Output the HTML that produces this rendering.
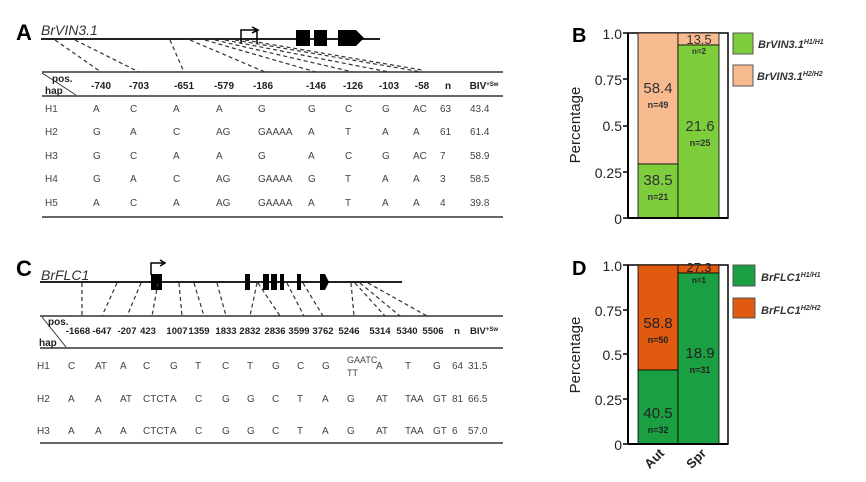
<!DOCTYPE html><html><head><style>body{margin:0;background:#fff}svg{display:block}</style></head><body>
<svg width="866" height="482" viewBox="0 0 866 482" font-family="Liberation Sans, sans-serif" xmlns="http://www.w3.org/2000/svg">
<!-- Panel A -->
<text x="16" y="40" font-size="22" font-weight="bold">A</text>
<text x="41" y="35" font-size="14" font-style="italic" fill="#333">BrVIN3.1</text>
<line x1="41" y1="39" x2="380" y2="39" stroke="#222" stroke-width="2"/>
<path d="M241 44 V30 H256 M252 27 L258 30 L252 33 M257 30 V44" stroke="#000" stroke-width="1.5" fill="none"/>
<rect x="296" y="30" width="14" height="16" fill="#000"/><rect x="314" y="30" width="13" height="16" fill="#000"/>
<path d="M338 30 H356 L364 38 L356 46 H338Z" fill="#000"/>
<g stroke="#333" stroke-dasharray="4,3" stroke-width="1.2">
<line x1="55" y1="40" x2="101" y2="72"/><line x1="75" y1="40" x2="139" y2="72"/><line x1="170" y1="40" x2="184" y2="72"/>
<line x1="190" y1="40" x2="265" y2="72"/><line x1="205" y1="40" x2="316" y2="72"/><line x1="215" y1="40" x2="353" y2="72"/>
<line x1="225" y1="40" x2="389" y2="72"/><line x1="235" y1="40" x2="422" y2="72"/><line x1="245" y1="40" x2="422" y2="70"/></g>
<line x1="42" y1="72" x2="503" y2="72" stroke="#333" stroke-width="1.5"/>
<line x1="42" y1="96" x2="503" y2="96" stroke="#333" stroke-width="1.5"/>
<line x1="42" y1="217" x2="503" y2="217" stroke="#333" stroke-width="1.5"/>
<line x1="42" y1="73" x2="76" y2="95" stroke="#333"/>
<g font-size="10" fill="#222" font-weight="bold"><text x="52" y="82">pos.</text><text x="45" y="94">hap</text>
<g text-anchor="middle"><text x="101" y="89">-740</text><text x="139" y="89">-703</text><text x="184" y="89">-651</text><text x="224" y="89">-579</text><text x="263" y="89">-186</text><text x="316" y="89">-146</text><text x="353" y="89">-126</text><text x="389" y="89">-103</text><text x="422" y="89">-58</text><text x="448" y="89">n</text><text x="484" y="89">BIV<tspan font-size="6" dy="-3">+Sw</tspan></text></g></g>
<g font-size="10" fill="#444">
<g transform="translate(0,112)"><text x="45">H1</text><text x="93">A</text><text x="130">C</text><text x="173">A</text><text x="216">A</text><text x="258">G</text><text x="308">G</text><text x="345">C</text><text x="382">G</text><text x="413">AC</text><text x="440">63</text><text x="470">43.4</text></g>
<g transform="translate(0,135)"><text x="45">H2</text><text x="93">G</text><text x="130">A</text><text x="173">C</text><text x="216">AG</text><text x="258">GAAAA</text><text x="308">A</text><text x="345">T</text><text x="382">A</text><text x="413">A</text><text x="440">61</text><text x="470">61.4</text></g>
<g transform="translate(0,159)"><text x="45">H3</text><text x="93">G</text><text x="130">C</text><text x="173">A</text><text x="216">A</text><text x="258">G</text><text x="308">A</text><text x="345">C</text><text x="382">G</text><text x="413">AC</text><text x="440">7</text><text x="470">58.9</text></g>
<g transform="translate(0,182)"><text x="45">H4</text><text x="93">G</text><text x="130">A</text><text x="173">C</text><text x="216">AG</text><text x="258">GAAAA</text><text x="308">G</text><text x="345">T</text><text x="382">A</text><text x="413">A</text><text x="440">3</text><text x="470">58.5</text></g>
<g transform="translate(0,206)"><text x="45">H5</text><text x="93">A</text><text x="130">C</text><text x="173">A</text><text x="216">AG</text><text x="258">GAAAA</text><text x="308">A</text><text x="345">T</text><text x="382">A</text><text x="413">A</text><text x="440">4</text><text x="470">39.8</text></g></g>

<!-- Panel C -->
<text x="16" y="276" font-size="22" font-weight="bold">C</text>
<text x="41" y="280" font-size="14" font-style="italic" fill="#333">BrFLC1</text>
<line x1="40" y1="282" x2="402" y2="282" stroke="#222" stroke-width="2"/>
<path d="M151 275 V263 H163 M160 260 L165 263 L160 266" stroke="#000" stroke-width="1.5" fill="none"/>
<rect x="151" y="274" width="11" height="16" fill="#000"/>
<g fill="#000"><rect x="245" y="274" width="5" height="16"/><rect x="263" y="274" width="6" height="16"/><rect x="271" y="274" width="6" height="16"/><rect x="280" y="274" width="4" height="16"/><rect x="297" y="274" width="4" height="16"/><path d="M320 274 H325 L329 282 L325 290 H320Z"/></g>
<g stroke="#333" stroke-dasharray="4,3" stroke-width="1.2">
<line x1="82" y1="283" x2="82" y2="316"/><line x1="117" y1="283" x2="102" y2="316"/><line x1="141" y1="283" x2="127" y2="316"/><line x1="158" y1="283" x2="152" y2="316"/>
<line x1="179" y1="283" x2="182" y2="316"/><line x1="194" y1="283" x2="204" y2="316"/><line x1="217" y1="283" x2="226" y2="316"/><line x1="257" y1="283" x2="250" y2="316"/>
<line x1="258" y1="283" x2="280" y2="316"/><line x1="287" y1="283" x2="304" y2="316"/><line x1="303" y1="283" x2="323" y2="316"/><line x1="351" y1="283" x2="354" y2="316"/>
<line x1="355" y1="283" x2="385" y2="316"/><line x1="360" y1="283" x2="400" y2="316"/><line x1="368" y1="283" x2="427" y2="316"/></g>
<line x1="40" y1="316" x2="503" y2="316" stroke="#333" stroke-width="1.5"/>
<line x1="40" y1="348" x2="503" y2="348" stroke="#333" stroke-width="1.5"/>
<line x1="40" y1="443" x2="503" y2="443" stroke="#333" stroke-width="1.5"/>
<line x1="42" y1="317" x2="66" y2="347" stroke="#333"/>
<g font-size="10" fill="#222" font-weight="bold"><text x="48" y="325">pos.</text><text x="39" y="346">hap</text>
<g text-anchor="middle" font-size="9.5"><text x="78" y="334">-1668</text><text x="102" y="334">-647</text><text x="127" y="334">-207</text><text x="148" y="334">423</text><text x="177" y="334">1007</text><text x="199" y="334">1359</text><text x="226" y="334">1833</text><text x="250" y="334">2832</text><text x="275" y="334">2836</text><text x="299" y="334">3599</text><text x="323" y="334">3762</text><text x="349" y="334">5246</text><text x="380" y="334">5314</text><text x="407" y="334">5340</text><text x="433" y="334">5506</text><text x="457" y="334">n</text><text x="484" y="334">BIV<tspan font-size="6" dy="-3">+Sw</tspan></text></g></g>
<g font-size="10" fill="#444">
<g transform="translate(0,369)"><text x="37">H1</text><text x="68">C</text><text x="95">AT</text><text x="120">A</text><text x="143">C</text><text x="170">G</text><text x="195">T</text><text x="222">C</text><text x="247">T</text><text x="272">G</text><text x="297">C</text><text x="322">G</text><text x="347" y="-6" font-size="9">GAATC</text><text x="347" y="7" font-size="9">TT</text><text x="376">A</text><text x="405">T</text><text x="433">G</text><text x="452">64</text><text x="468">31.5</text></g>
<g transform="translate(0,402)"><text x="37">H2</text><text x="68">A</text><text x="95">A</text><text x="120">AT</text><text x="143">CTCT</text><text x="170">A</text><text x="195">C</text><text x="222">G</text><text x="247">G</text><text x="272">C</text><text x="297">T</text><text x="322">A</text><text x="347">G</text><text x="376">AT</text><text x="405">TAA</text><text x="433">GT</text><text x="452">81</text><text x="468">66.5</text></g>
<g transform="translate(0,434)"><text x="37">H3</text><text x="68">A</text><text x="95">A</text><text x="120">A</text><text x="143">CTCT</text><text x="170">A</text><text x="195">C</text><text x="222">G</text><text x="247">G</text><text x="272">C</text><text x="297">T</text><text x="322">A</text><text x="347">G</text><text x="376">AT</text><text x="405">TAA</text><text x="433">GT</text><text x="452">6</text><text x="468">57.0</text></g></g>

<!-- Panel B -->
<text x="572" y="42" font-size="20" font-weight="bold">B</text>
<rect x="628" y="33" width="100" height="185" fill="#fff" stroke="#000" stroke-width="1.5"/>
<rect x="638" y="33" width="40" height="131" fill="#f8bb8f" stroke="#000" stroke-width="0.8"/>
<rect x="638" y="164" width="40" height="54" fill="#7dcd3c" stroke="#000" stroke-width="0.8"/>
<rect x="678" y="33" width="41" height="12" fill="#f8bb8f" stroke="#000" stroke-width="0.8"/>
<rect x="678" y="45" width="41" height="173" fill="#7dcd3c" stroke="#000" stroke-width="0.8"/>
<line x1="628" y1="33" x2="628" y2="218" stroke="#000" stroke-width="2"/><line x1="628" y1="218" x2="728" y2="218" stroke="#000" stroke-width="2"/>
<g stroke="#000" stroke-width="1.5"><line x1="623" y1="33" x2="628" y2="33"/><line x1="623" y1="79" x2="628" y2="79"/><line x1="623" y1="126" x2="628" y2="126"/><line x1="623" y1="172" x2="628" y2="172"/><line x1="623" y1="218" x2="628" y2="218"/></g>
<g font-size="14" fill="#222" text-anchor="end"><text x="622" y="39">1.0</text><text x="622" y="85">0.75</text><text x="622" y="131">0.5</text><text x="622" y="178">0.25</text><text x="622" y="224">0</text></g>
<text transform="translate(580,125) rotate(-90)" font-size="15" text-anchor="middle" fill="#222">Percentage</text>
<g text-anchor="middle" fill="#333"><text x="658" y="93" font-size="15">58.4</text><text x="658" y="108" font-size="9" font-weight="bold">n=49</text>
<text x="658" y="185" font-size="15">38.5</text><text x="658" y="200" font-size="9" font-weight="bold">n=21</text>
<text x="700" y="131" font-size="15">21.6</text><text x="700" y="146" font-size="9" font-weight="bold">n=25</text>
<text x="699" y="44" font-size="13">13.5</text><text x="699" y="54" font-size="8" font-weight="bold">n=2</text></g>
<rect x="733" y="33" width="20" height="21" fill="#7dcd3c" stroke="#555"/><rect x="733" y="65" width="20" height="21" fill="#f8bb8f" stroke="#555"/>
<g font-size="11" font-weight="bold" font-style="italic" fill="#333"><text x="758" y="48">BrVIN3.1<tspan font-size="7" dy="-4">H1/H1</tspan></text><text x="757" y="80">BrVIN3.1<tspan font-size="7" dy="-4">H2/H2</tspan></text></g>

<!-- Panel D -->
<text x="572" y="275" font-size="20" font-weight="bold">D</text>
<rect x="628" y="265" width="100" height="179" fill="#fff" stroke="#000" stroke-width="1.5"/>
<rect x="638" y="265" width="40" height="105" fill="#e05a10" stroke="#000" stroke-width="0.8"/>
<rect x="638" y="370" width="40" height="74" fill="#1aa043" stroke="#000" stroke-width="0.8"/>
<rect x="678" y="265" width="41" height="8" fill="#e05a10" stroke="#000" stroke-width="0.8"/>
<rect x="678" y="273" width="41" height="171" fill="#1aa043" stroke="#000" stroke-width="0.8"/>
<line x1="628" y1="265" x2="628" y2="444" stroke="#000" stroke-width="2"/><line x1="628" y1="444" x2="728" y2="444" stroke="#000" stroke-width="2"/>
<g stroke="#000" stroke-width="1.5"><line x1="623" y1="265" x2="628" y2="265"/><line x1="623" y1="310" x2="628" y2="310"/><line x1="623" y1="354" x2="628" y2="354"/><line x1="623" y1="399" x2="628" y2="399"/><line x1="623" y1="444" x2="628" y2="444"/></g>
<g font-size="14" fill="#222" text-anchor="end"><text x="622" y="271">1.0</text><text x="622" y="316">0.75</text><text x="622" y="360">0.5</text><text x="622" y="405">0.25</text><text x="622" y="450">0</text></g>
<text transform="translate(580,355) rotate(-90)" font-size="15" text-anchor="middle" fill="#222">Percentage</text>
<g text-anchor="middle" fill="#222"><text x="658" y="328" font-size="15">58.8</text><text x="658" y="343" font-size="9" font-weight="bold">n=50</text>
<text x="658" y="418" font-size="15">40.5</text><text x="658" y="433" font-size="9" font-weight="bold">n=32</text>
<text x="700" y="358" font-size="15">18.9</text><text x="700" y="373" font-size="9" font-weight="bold">n=31</text>
<text x="699" y="272" font-size="13">27.3</text><text x="699" y="283" font-size="8" font-weight="bold">n=1</text></g>
<rect x="733" y="265" width="22" height="21" fill="#1aa043" stroke="#555"/><rect x="733" y="298" width="22" height="20" fill="#e05a10" stroke="#555"/>
<g font-size="11" font-weight="bold" font-style="italic" fill="#333"><text x="761" y="281">BrFLC1<tspan font-size="7" dy="-4">H1/H1</tspan></text><text x="761" y="314">BrFLC1<tspan font-size="7" dy="-4">H2/H2</tspan></text></g>
<g font-size="13" font-weight="bold" fill="#222" text-anchor="end"><text transform="translate(665,454) rotate(-45)">Aut</text><text transform="translate(707,454) rotate(-45)">Spr</text></g>
</svg>
</body></html>
